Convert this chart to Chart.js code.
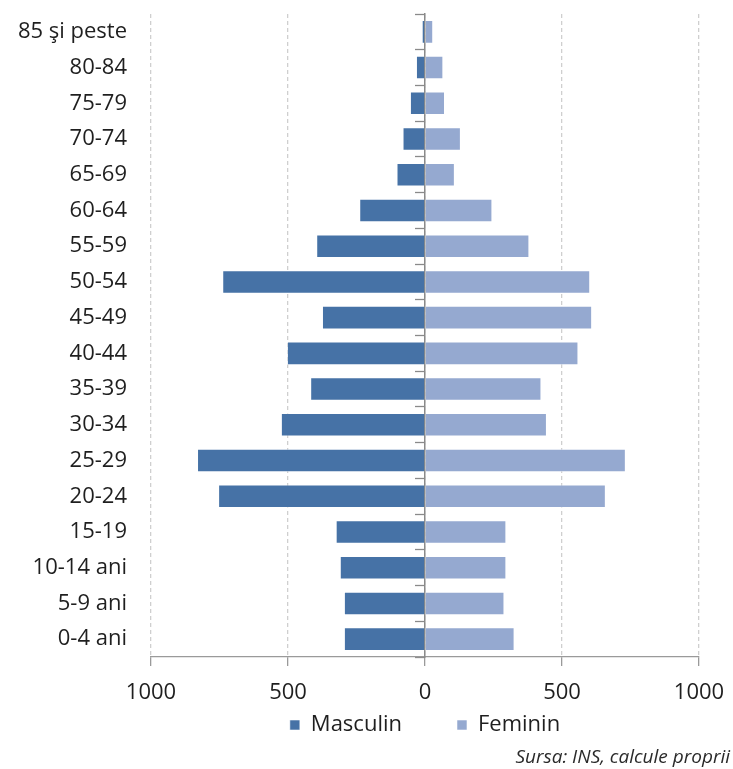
<!DOCTYPE html>
<html>
<head>
<meta charset="utf-8">
<script src="https://cdn.jsdelivr.net/npm/chart.js@4/dist/chart.umd.min.js"></script>
<style>
  html, body { margin: 0; padding: 0; background: #ffffff; }
  #wrap { position: relative; width: 733px; height: 769px; }
</style>
</head>
<body>
<div id="wrap"><canvas id="c" width="733" height="769"></canvas></div>
<script>
// ---- data ----
const ageGroups = ['85 şi peste', '80-84', '75-79', '70-74', '65-69', '60-64', '55-59', '50-54', '45-49',
                   '40-44', '35-39', '30-34', '25-29', '20-24', '15-19', '10-14 ani', '5-9 ani', '0-4 ani'];
const masculin = [12, 33, 55, 82, 104, 240, 397, 740, 376, 504, 419, 526, 832, 755, 326, 311, 296, 296];
const feminin  = [30, 67, 73, 131, 109, 246, 381, 603, 610, 560, 425, 445, 733, 660, 297, 297, 290, 327];
const xTicks = [-1000, -500, 0, 500, 1000];
const seriesNames = ['Masculin', 'Feminin'];
const sourceText = 'Sursa: INS, calcule proprii';

const FONT = 'Open Sans';
const TEXT = '#1f1f1f';

Chart.defaults.font.family = FONT;
Chart.defaults.color = TEXT;

new Chart(document.getElementById('c'), {
  type: 'bar',
  data: {
    labels: ageGroups,
    datasets: [
      { label: seriesNames[0], data: masculin.map(v => -v), backgroundColor: '#4672A6',
        borderColor: 'rgba(255,255,255,0.55)', borderWidth: 1, yAxisID: 'y' },
      { label: seriesNames[1], data: feminin, backgroundColor: '#95A9D0',
        borderColor: 'rgba(255,255,255,0.55)', borderWidth: 1, yAxisID: 'y' }
    ]
  },
  options: {
    indexAxis: 'y',
    responsive: false,
    animation: false,
    barPercentage: 0.66,
    categoryPercentage: 1,
    layout: { padding: { top: 14, right: 3, left: 0, bottom: 0 } },
    scales: {
      x: {
        stacked: true,
        min: -1000, max: 1000,
        afterBuildTicks: s => { s.ticks = xTicks.map(v => ({ value: v })); },
        afterFit: s => { s.height = 46; s.paddingLeft = 0; s.paddingRight = 0; },
        ticks: { callback: v => String(Math.abs(v)), font: { size: 22 }, color: TEXT, padding: 14 },
        grid: { color: '#cfcfcf', lineWidth: 1.3, tickColor: '#9a9a9a', tickLength: 9, tickBorderDash: [] },
        border: { display: true, color: '#9a9a9a', width: 1.3, dash: [4, 3] }
      },
      y: {
        stacked: true,
        position: 'left',
        offset: true,
        afterFit: s => { s.width = 151; },
        grid: { display: false, drawTicks: true, tickLength: 24, offset: true },
        border: { display: false },
        ticks: { font: { size: 22 }, color: TEXT, padding: 0 }
      },
      y2: {
        type: 'category',
        position: { x: 0 },
        offset: true,
        z: 1,
        grid: { display: true, drawOnChartArea: false, offset: true, tickLength: 9, color: '#8a8a8a', tickColor: '#8a8a8a', tickWidth: 1.3 },
        border: { display: true, color: '#8a8a8a', width: 1.5 },
        ticks: { display: false }
      },
      yR: {
        type: 'category',
        position: 'right',
        afterFit: s => { s.width = 31; },
        grid: { display: false, drawTicks: false },
        border: { display: false },
        ticks: { display: false }
      }
    },
    plugins: {
      tooltip: { enabled: false },
      legend: {
        position: 'bottom',
        fullSize: false,
        labels: { boxWidth: 10, boxHeight: 10, padding: 11, font: { size: 22 }, color: TEXT,
          generateLabels: c => Chart.defaults.plugins.legend.labels.generateLabels(c).map((it, i) => {
            if (i === 0) it.text = it.text + '\u2002\u2002\u2002\u2002';
            return it;
          }) }
      },
      subtitle: {
        display: true,
        text: sourceText,
        position: 'bottom',
        align: 'end',
        color: '#2a2a2a',
        font: { size: 19, style: 'italic', lineHeight: 23 / 19 },
        padding: { top: 0, bottom: 0 }
      }
    }
  }
});
</script>
</body>
</html>
